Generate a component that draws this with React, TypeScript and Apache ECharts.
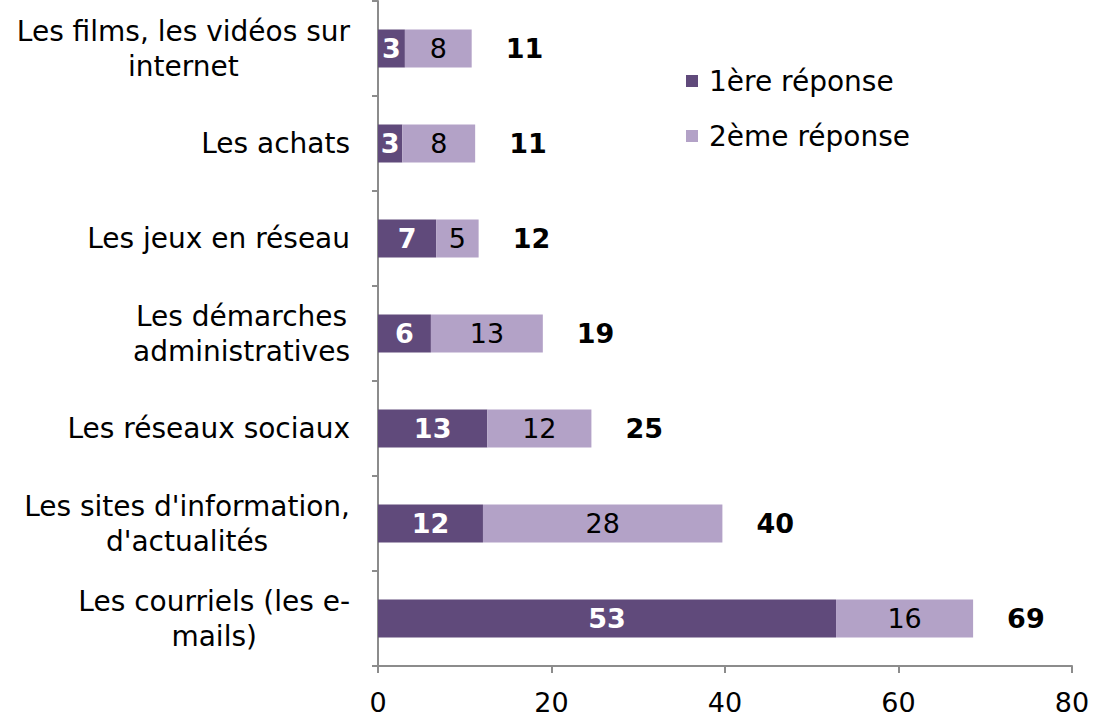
import React, { useEffect, useRef } from "react";
import * as echarts from "echarts";

const categories = [
  "Les films, les vidéos sur\ninternet",
  "Les achats",
  "Les jeux en réseau",
  "Les démarches\nadministratives",
  "Les réseaux sociaux",
  "Les sites d'information,\nd'actualités",
  "Les courriels (les e-\nmails)",
];
const first = [3.1, 2.8, 6.7, 6.1, 12.6, 12.1, 52.8];
const second = [7.7, 8.4, 4.9, 12.9, 12.0, 27.6, 15.8];
const xTicks = { min: 0, max: 80, interval: 20 };
const seriesNames = ["1ère réponse", "2ème réponse"];

const FONT = "'DejaVu Sans', Verdana, sans-serif";
const AXIS = "#8c8c8c";

export default function App() {
  const ref = useRef<HTMLDivElement>(null);
  useEffect(() => {
    if (!ref.current) return;
    const chart = echarts.init(ref.current, undefined, { renderer: "svg" });
    const totals = first.map((v, i) => v + second[i]);
    chart.setOption({
      animation: false,
      textStyle: { fontFamily: FONT },
      grid: { left: 378, right: 22, top: 1, bottom: 51, containLabel: false },
      legend: {
        data: seriesNames,
        orient: "vertical",
        left: 686,
        top: 66,
        padding: 0,
        icon: "rect",
        itemWidth: 12,
        itemHeight: 12,
        itemGap: 25,
        textStyle: { fontSize: 28, color: "#000", fontFamily: FONT, lineHeight: 30, padding: [0, 0, 0, 6] },
      },
      xAxis: {
        type: "value",
        min: xTicks.min,
        max: xTicks.max,
        interval: xTicks.interval,
        splitLine: { show: false },
        axisLine: { show: true, lineStyle: { color: AXIS, width: 2 } },
        axisTick: { show: true, length: 7, lineStyle: { color: AXIS, width: 2 } },
        axisLabel: { fontSize: 27, lineHeight: 24, color: "#000", fontFamily: FONT, margin: 24 },
      },
      yAxis: {
        type: "category",
        data: categories,
        inverse: true,
        axisLine: { show: true, lineStyle: { color: AXIS, width: 2 } },
        axisTick: { show: true, length: 6, lineStyle: { color: AXIS, width: 2 } },
        axisLabel: {
          margin: 28,
          color: "#000",
          fontFamily: FONT,
          fontSize: 28,
          formatter: (v: string) => v.split("\n").map((l) => `{c|${l}}`).join("\n"),
          rich: { c: { align: "center", fontSize: 28, lineHeight: 35, fontFamily: FONT, color: "#000" } },
        },
      },
      series: [
        {
          name: seriesNames[0],
          type: "bar",
          stack: "a",
          barWidth: 38,
          data: first,
          itemStyle: { color: "#604A7B" },
          label: {
            show: true,
            position: "inside",
            color: "#fff",
            fontWeight: "bold",
            fontSize: 27,
            fontFamily: FONT,
            formatter: (p: any) => String(Math.round(p.value)),
          },
        },
        {
          name: seriesNames[1],
          type: "bar",
          stack: "a",
          barWidth: 38,
          data: second,
          itemStyle: { color: "#B3A2C7" },
          label: {
            show: true,
            position: "inside",
            color: "#000",
            fontSize: 27,
            fontFamily: FONT,
            formatter: (p: any) => String(Math.round(p.value)),
          },
        },
        {
          name: "Total",
          type: "scatter",
          symbolSize: 0,
          data: totals.map((t, i) => [t, i]),
          itemStyle: { color: "transparent", opacity: 1 },
          label: {
            show: true,
            position: "right",
            distance: 34,
            color: "#000",
            fontWeight: "bold",
            fontSize: 27,
            fontFamily: FONT,
            formatter: (p: any) => String(Math.round(p.value[0])),
          },
        },
      ],
    });
    return () => chart.dispose();
  }, []);
  return (
    <div
      ref={ref}
      style={{ position: "fixed", left: 0, top: 0, width: 1094, height: 717, background: "#fff" }}
    />
  );
}
